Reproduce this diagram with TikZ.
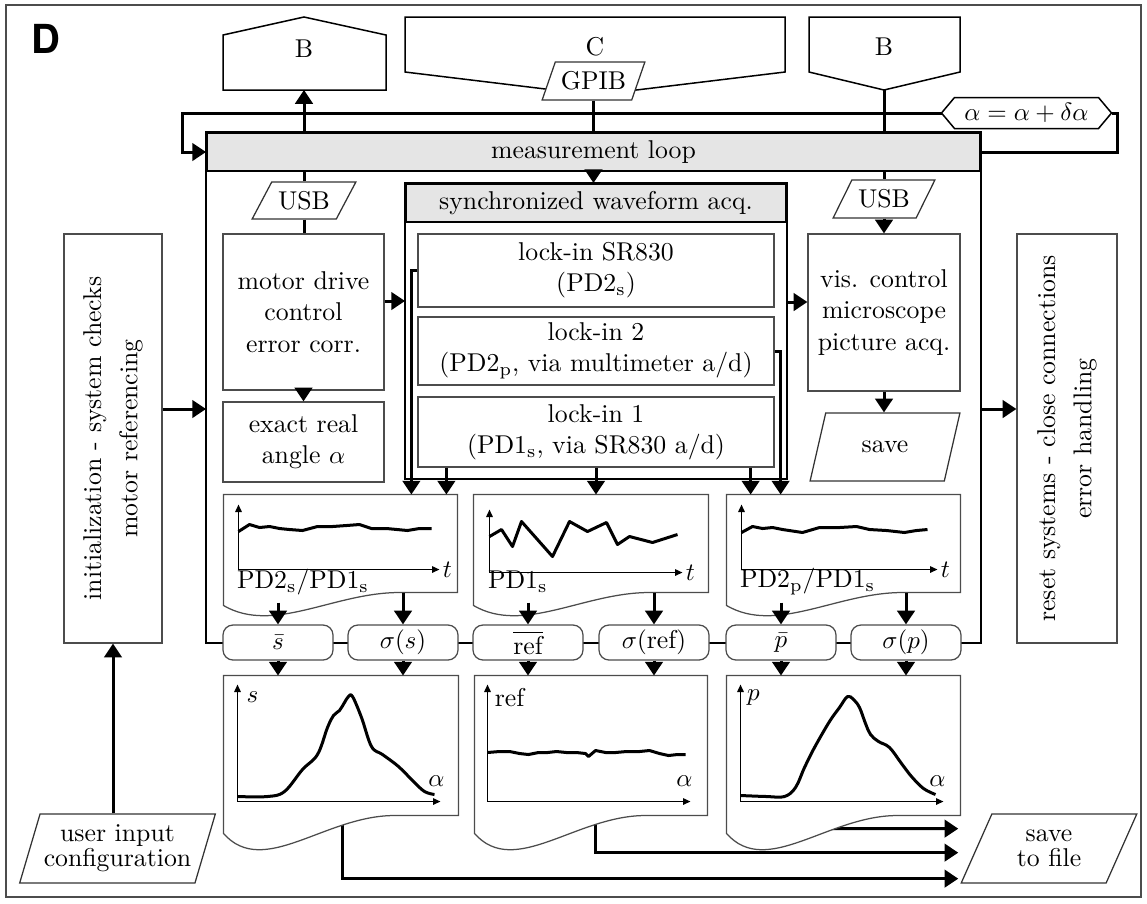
\documentclass[tikz,border=0pt]{standalone}
\usepackage{fontspec}
\newfontfamily\headfont{TeX Gyre Heros}
\usepackage{amsmath,amssymb}
\usepackage{xcolor}
\usepackage{tikz}
\usetikzlibrary{arrows.meta,positioning,calc,shapes.geometric,backgrounds}

\tikzset{
  sz/.style 2 args={minimum width=#1*0.4pt,minimum height=#2*0.4pt},
  box/.style={draw=black!70,line width=0.5pt,fill=white,align=center,inner sep=1pt},
  docbox/.style={draw=black!70,line width=0.5pt,fill=white},
  bar/.style={draw=black,line width=0.8pt,fill=black!10,inner sep=1pt},
  frm/.style={draw=black,line width=0.8pt},
  shp/.style={draw=black,line width=0.6pt},
  pill/.style={draw=black!70,line width=0.5pt,fill=white,rounded corners=4pt,inner sep=1pt},
  io/.style 2 args={trapezium,trapezium left angle=#1,trapezium right angle=#2,trapezium stretches=true,
    draw=black!80,line width=0.5pt,fill=white,align=center,inner sep=1pt},
  con/.style={line width=1.2pt},
  arr/.style={con,-{Triangle[length=5.5pt,width=7pt]}},
  axis/.style={line width=0.6pt,-{Triangle[length=3pt,width=2.6pt]}},
  curve/.style={line width=1.2pt,line join=round}
}

\begin{document}
\begin{tikzpicture}[x=0.4pt,y=-0.4pt,font=\fontsize{10.3}{12.5}\selectfont]
  \useasboundingbox (0,0) rectangle (1147,903);
  \draw[draw=black!70,line width=0.5pt] (6,5) rectangle (1141,897);
  \node[font=\headfont\bfseries\fontsize{16}{18}\selectfont] (tag) at (46,39) {D};

  \draw[shp] (223,90) -- (223,35) -- (304,17) -- (386,35) -- (386,90) -- cycle;
  \node (bleft) at (304,49) {B};
  \coordinate (bleftin) at (304,90);
  \draw[shp] (405,72) -- (405,17) -- (785,17) -- (785,72) -- (595,95) -- cycle;
  \node (lockc) at (595,47) {C};
  \draw[shp] (809,72) -- (809,17) -- (960,17) -- (960,72) -- (884,90) -- cycle;
  \node (bright) at (884,47) {B};
  \coordinate (brightout) at (884,90);
  \node[io={63}{117},sz={103}{38}] (gpib) at (593.5,81) {GPIB};

  \node[bar,sz={773}{38}] (loop) at (593.5,152) {measurement loop};
  \node[sz={169}{30},inner sep=0pt] (incr) at (1026.5,113) {$\alpha=\alpha+\delta\alpha$};
  \draw[shp] (incr.west) -- ($(incr.north west)+(13,0)$) -- ($(incr.north east)+(-13,0)$) -- (incr.east)
    -- ($(incr.south east)+(-13,0)$) -- ($(incr.south west)+(13,0)$) -- cycle;

  \node[io={54}{126},sz={104}{37}] (usbl) at (304,200.5) {USB};
  \node[io={55}{125},sz={102}{38}] (usbr) at (884,199) {USB};
  \node[box,sz={161}{156}] (motor) at (303.5,312) {motor drive\\control\\error corr.};
  \node[box,sz={161}{80}] (angle) at (303.5,442) {exact real\\angle $\alpha$};

  \node[bar,sz={380}{38}] (sync) at (596,203) {synchronized waveform acq.};
  \node[box,sz={356}{73}] (lkA) at (596,270.5) {lock-in SR830\\(PD2$_\mathrm{s}$)};
  \node[box,sz={356}{68}] (lkB) at (596,351) {lock-in 2\\(PD2$_\mathrm{p}$, via multimeter a/d)};
  \node[box,sz={356}{70}] (lkC) at (596,432) {lock-in 1\\(PD1$_\mathrm{s}$, via SR830 a/d)};

  \node[box,sz={152}{157}] (vis) at (884,312.5) {vis. control\\microscope\\picture acq.};
  \node[io={68}{112},sz={150}{68}] (savepic) at (885,447) {save};

  \node[box,sz={98}{409}] (init) at (113,438.5)
    {\rotatebox{90}{\begin{tabular}{@{}c@{}}initialization - system checks\\[2pt]motor referencing\end{tabular}}};
  \node[box,sz={100}{409}] (reset) at (1067,438.5)
    {\rotatebox{90}{\begin{tabular}{@{}c@{}}reset systems - close connections\\[2pt]error handling\end{tabular}}};

  \node[pill,sz={110}{35}] (sbar) at (278,642.5) {$\bar{s}$};
  \node[pill,sz={110}{35}] (ssig) at (403,642.5) {$\sigma(s)$};
  \node[pill,sz={110}{35}] (rbar) at (528,642.5) {$\overline{\mathrm{ref}}$};
  \node[pill,sz={110}{35}] (rsig) at (654,642.5) {$\sigma(\mathrm{ref})$};
  \node[pill,sz={110}{35}] (pbar) at (781,642.5) {$\bar{p}$};
  \node[pill,sz={110}{35}] (psig) at (906,642.5) {$\sigma(p)$};

  \node[sz={233}{97}] (tsA) at (340.5,543.5) {};
  \node[sz={234}{97}] (tsB) at (591,543.5) {};
  \node[sz={233}{97}] (tsC) at (843.5,543.5) {};
  \node[sz={234}{139}] (sfA) at (341,745.5) {};
  \node[sz={232}{139}] (sfB) at (591,745.5) {};
  \node[sz={233}{139}] (sfC) at (843.5,745.5) {};
  \foreach \b in {tsA,tsB,tsC}
    \draw[docbox] ($(\b.south west)+(0,13)$) .. controls ($(\b.south west)+(50,42)$) and ($(\b.south west)+(110,0)$)
      .. ($(\b.south west)+(176,0)$) -- (\b.south east) -- (\b.north east) -- (\b.north west) -- cycle;
  \foreach \b in {sfA,sfB,sfC}
    \draw[docbox] ($(\b.south west)+(0,18)$) .. controls ($(\b.south west)+(40,63)$) and ($(\b.south west)+(101,0)$)
      .. ($(\b.south west)+(171,0)$) -- (\b.south east) -- (\b.north east) -- (\b.north west) -- cycle;

  \node[io={69}{111},sz={197}{69}] (user) at (117.5,848.5) {user input\\[-2.5pt]configuration};
  \node[io={66}{114},sz={176}{69}] (tofile) at (1049,848.5) {save\\[-2.5pt]to file};

  \begin{scope}[shift={(tsA.north west)}]
    \draw[axis] (15,75) -- (216,75) node[right,inner sep=1pt] (tA) {$t$};
    \draw[axis] (15,75) -- (15,10);
    \draw[curve] plot coordinates {(15,37) (26,30) (36,33) (46,32) (56,34) (66,35) (79,36) (94,32) (109,32)
      (123,31) (136,30) (148,34) (163,34) (184,36) (196,34) (208,34)};
    \node[anchor=base west,inner sep=0pt] (lA) at (13,94) {PD2$_\mathrm{s}$/PD1$_\mathrm{s}$};
  \end{scope}
  \begin{scope}[shift={(tsB.north west)}]
    \draw[axis] (16,78) -- (209,78) node[right,inner sep=1pt] (tB) {$t$};
    \draw[axis] (16,78) -- (16,15);
    \draw[curve] plot coordinates {(16,42) (28,35) (39,52) (48,27) (79,62) (96,27) (114,37) (133,28) (144,50)
      (156,42) (179,48) (204,40)};
    \node[anchor=base west,inner sep=0pt] (lB) at (14,94) {PD1$_\mathrm{s}$};
  \end{scope}
  \begin{scope}[shift={(tsC.north west)}]
    \draw[axis] (15,75) -- (211,75) node[right,inner sep=1pt] (tC) {$t$};
    \draw[axis] (15,75) -- (15,10);
    \draw[curve] plot coordinates {(15,38) (26,32) (36,34) (46,33) (56,35) (76,38) (93,33) (113,33) (130,32)
      (143,35) (160,36) (178,38) (190,36) (201,35)};
    \node[anchor=base west,inner sep=0pt] (lC) at (13,93) {PD2$_\mathrm{p}$/PD1$_\mathrm{s}$};
  \end{scope}

  \begin{scope}[shift={(sfA.north west)}]
    \draw[axis] (14,126) -- (217,126);
    \draw[axis] (14,126) -- (14,9);
    \node (yA) at (29,22) {$s$};
    \node (xA) at (213,106) {$\alpha$};
    \draw[curve] plot[smooth,tension=0.6] coordinates {(14,121) (44,121) (61,116) (79,94) (94,79) (104,52)
      (110,40) (116,35) (121,27) (125,21) (129,21) (138,42) (148,71) (159,79) (175,91) (190,106) (201,116) (211,119)};
  \end{scope}
  \begin{scope}[shift={(sfB.north west)}]
    \draw[axis] (13,126) -- (216,126);
    \draw[axis] (13,126) -- (13,9);
    \node (yB) at (35,22) {ref};
    \node (xB) at (210,106) {$\alpha$};
    \draw[curve] plot coordinates {(13,77) (25,76) (35,76) (45,78) (54,79) (64,77) (73,77) (82,76) (92,77)
      (102,77) (111,78) (114,81) (121,75) (131,77) (141,77) (152,76) (165,76) (175,75) (185,78) (194,80)
      (203,79) (211,79)};
  \end{scope}
  \begin{scope}[shift={(sfC.north west)}]
    \draw[axis] (14,126) -- (217,126);
    \draw[axis] (14,126) -- (14,9);
    \node (yC) at (27,22) {$p$};
    \node (xC) at (211,106) {$\alpha$};
    \draw[curve] plot[smooth,tension=0.6] coordinates {(14,120) (40,121) (58,121) (69,112) (78,92) (88,72)
      (103,46) (113,32) (121,21) (127,24) (133,32) (139,48) (144,59) (152,66) (163,72) (175,88) (185,101)
      (197,113) (209,119)};
  \end{scope}

  \draw[arr] (loop.north -| bleftin) -- (bleftin);
  \draw[con] (gpib.south -| gpib) -- (gpib |- loop.north);
  \draw[arr] (gpib |- loop.south) -- (gpib |- sync.north);
  \draw[con] (brightout) -- (brightout |- loop.north);
  \draw[arr] (incr.west) -| ($(loop.west)+(-24,0)$) -- (loop.west);
  \draw[con] (incr.east) -- ++(6,0) |- (loop.east);

  \draw[con] (usbl |- loop.south) -- (usbl.north -| usbl);
  \draw[con] (usbl.south -| usbl) -- (usbl |- motor.north);
  \draw[con] (usbr |- loop.south) -- (usbr.north -| usbr);
  \draw[arr] (usbr.south -| usbr) -- (usbr |- vis.north);
  \draw[arr] (motor.south) -- (angle.north);
  \draw[arr] ([yshift=4.4pt]motor.east) -- ([yshift=4.4pt]motor.east -| sync.west);
  \draw[arr] ([yshift=4.2pt]vis.west -| sync.east) -- ([yshift=4.2pt]vis.west);
  \draw[arr] (vis.south) -- (vis |- savepic.north);
  \draw[arr] ([yshift=11.8pt]init.east) -- ([yshift=11.8pt]init.east -| loop.west);
  \draw[arr] ([yshift=11.8pt]reset.west -| loop.east) -- ([yshift=11.8pt]reset.west);
  \draw[arr] (init |- user.north) -- (init.south);

  \draw[arr] (lkA.west) -| ([xshift=-2.4pt]lkA.west |- tsA.north);
  \draw[arr] ([xshift=11.6pt]lkC.south west) -- ([xshift=11.6pt]lkC.south west |- tsA.north);
  \draw[arr] (lkC.south) -- (lkC.south |- tsB.north);
  \draw[arr] ([xshift=-9.6pt]lkC.south east) -- ([xshift=-9.6pt]lkC.south east |- tsC.north);
  \draw[arr] (lkB.east) -| ([xshift=2.4pt]lkB.east |- tsC.north);

  \draw[arr] ([yshift=-4pt]tsA.south -| sbar) -- (sbar.north);
  \draw[arr] (tsA.south -| ssig) -- (ssig.north);
  \draw[arr] ([yshift=-4pt]tsB.south -| rbar) -- (rbar.north);
  \draw[arr] (tsB.south -| rsig) -- (rsig.north);
  \draw[arr] ([yshift=-4pt]tsC.south -| pbar) -- (pbar.north);
  \draw[arr] (tsC.south -| psig) -- (psig.north);
  \draw[arr] (sbar.south) -- (sbar |- sfA.north);
  \draw[arr] (ssig.south) -- (ssig |- sfA.north);
  \draw[arr] (rbar.south) -- (rbar |- sfB.north);
  \draw[arr] (rsig.south) -- (rsig |- sfB.north);
  \draw[arr] (pbar.south) -- (pbar |- sfC.north);
  \draw[arr] (psig.south) -- (psig |- sfC.north);

  \coordinate (o1) at ($(sfA.south west)+(119,-15)$);
  \coordinate (o2) at ($(sfB.south west)+(121,-15)$);
  \coordinate (o3) at ($(sfC.south west)+(73,13)$);
  \coordinate (e1) at ($(tofile.bottom left corner)+(-2,-5)$);
  \coordinate (e2) at ($(tofile.bottom left corner)+(-2,-31)$);
  \coordinate (e3) at ($(tofile.bottom left corner)+(-2,-55)$);

  \begin{scope}[on background layer]
    \draw[frm] (loop.north west) rectangle (loop.east |- sbar);
    \draw[frm] (sync.north west) rectangle ($(sync.east |- lkC.south)+(0,11)$);
    \draw[arr] (o1) |- (e1);
    \draw[arr] (o2) |- (e2);
    \draw[arr] (o3) -- (e3);
  \end{scope}
\end{tikzpicture}
\end{document}
